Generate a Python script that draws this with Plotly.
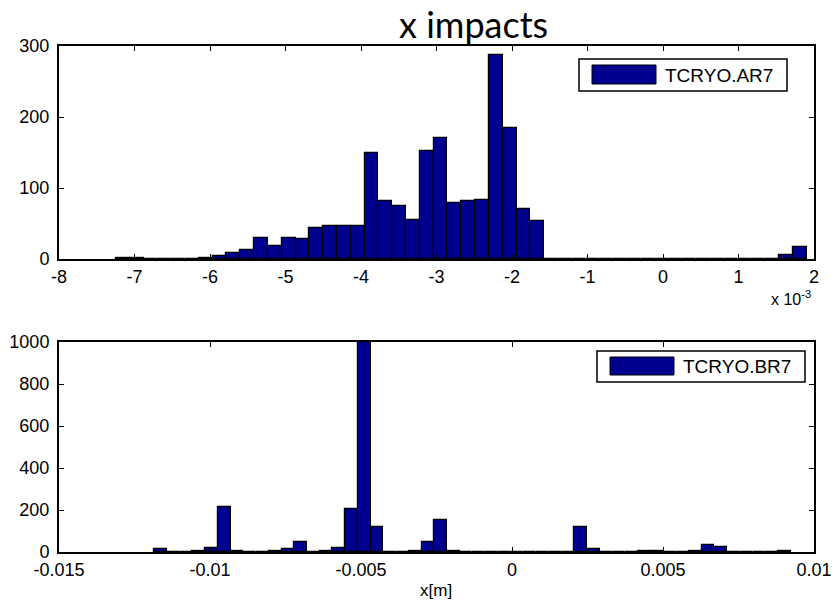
import numpy as np
import plotly.graph_objects as go

# Histogram of x impacts on TCRYO.AR7 (50 bins, x in units of 1e-3 m)
ar7_lo, ar7_hi = -7.246, 1.903
ar7_counts = [2, 1, 0, 0, 0, 0, 1, 4, 8, 13,
              30, 19, 30, 28, 43, 47, 47, 47, 149, 81,
              74, 55, 152, 171, 79, 81, 83, 288, 184, 70,
              53, 0, 0, 0, 0, 0, 0, 0, 0, 0,
              0, 0, 0, 0, 0, 0, 0, 0, 5, 17]

# Histogram of x impacts on TCRYO.BR7 (50 bins, x in m)
br7_lo, br7_hi = -0.011848, 0.009229
br7_counts = [12, 0, 0, 6, 19, 215, 6, 0, 0, 5,
              12, 46, 0, 5, 19, 204, 1000, 119, 0, 0,
              6, 46, 151, 5, 0, 0, 0, 0, 0, 0,
              0, 0, 0, 119, 12, 0, 0, 0, 3, 3,
              0, 0, 5, 32, 25, 0, 0, 0, 0, 5]

top_ticks = [-8, -7, -6, -5, -4, -3, -2, -1, 0, 1, 2]
top_yticks = [0, 100, 200, 300]
bot_ticks = [-0.015, -0.01, -0.005, 0, 0.005, 0.01]
bot_ticklabels = ["-0.015", "-0.01", "-0.005", "0", "0.005", "0.01"]
bot_yticks = [0, 200, 400, 600, 800, 1000]

BAR = "#00008F"
W, H = 835, 603


def hist_bars(lo, hi, counts, xaxis, yaxis):
    n = len(counts)
    edges = np.linspace(lo, hi, n + 1)
    centers = (edges[:-1] + edges[1:]) / 2
    width = (hi - lo) / n
    return go.Bar(x=centers, y=counts, width=width, xaxis=xaxis, yaxis=yaxis,
                  marker=dict(color=BAR, line=dict(color="black", width=1.2)),
                  showlegend=False, hoverinfo="x+y")


fig = go.Figure()
fig.add_trace(hist_bars(ar7_lo, ar7_hi, ar7_counts, "x", "y"))
fig.add_trace(hist_bars(br7_lo, br7_hi, br7_counts, "x2", "y2"))

px_x = lambda p: p / W
px_y = lambda p: 1 - p / H

tick_font = dict(family="Liberation Sans, Arial, sans-serif", size=18, color="black")
axis_common = dict(showline=True, linecolor="black", linewidth=2, mirror="ticks",
                   ticks="inside", ticklen=5, tickwidth=1, tickcolor="black",
                   showgrid=False, zeroline=False, tickfont=tick_font,
                   automargin=False)

fig.update_layout(
    width=W, height=H,
    margin=dict(l=0, r=0, t=0, b=0),
    paper_bgcolor="white", plot_bgcolor="white",
    bargap=0,
    xaxis=dict(domain=[px_x(59), px_x(814)], range=[-8, 2], anchor="y",
               tickvals=top_ticks, ticktext=[str(t) for t in top_ticks], **axis_common),
    yaxis=dict(domain=[px_y(259), px_y(46)], range=[0, 300], anchor="x",
               tickvals=top_yticks, ticklabelstandoff=4, **axis_common),
    xaxis2=dict(domain=[px_x(59), px_x(814)], range=[-0.015, 0.01], anchor="y2",
                tickvals=bot_ticks, ticktext=bot_ticklabels, **axis_common),
    yaxis2=dict(domain=[px_y(552), px_y(342)], range=[0, 1000], anchor="x2",
                tickvals=bot_yticks, ticklabelstandoff=4, **axis_common),
)

# Figure title
fig.add_annotation(text="x impacts", x=px_x(473), y=px_y(24), xref="paper", yref="paper",
                   showarrow=False, xanchor="center", yanchor="middle",
                   font=dict(family="Lato, Open Sans, sans-serif", size=36, color="black"))

# Exponent label for the upper axis
fig.add_annotation(text="x 10<sup>-3</sup>", x=px_x(813), y=px_y(298), xref="paper", yref="paper",
                   showarrow=False, xanchor="right", yanchor="middle",
                   font=dict(family="Liberation Sans, Arial, sans-serif", size=16, color="black"))

# Lower axis title
fig.add_annotation(text="x[m]", x=px_x(436), y=px_y(590), xref="paper", yref="paper",
                   showarrow=False, xanchor="center", yanchor="middle",
                   font=dict(family="Liberation Sans, Arial, sans-serif", size=17, color="black"))


# Boxed legends with a wide colour swatch
def legend_box(x0, y0, x1, y1, label):
    fig.add_shape(type="rect", xref="paper", yref="paper",
                  x0=px_x(x0), x1=px_x(x1), y0=px_y(y1), y1=px_y(y0),
                  line=dict(color="black", width=1.5), fillcolor="white")
    fig.add_shape(type="rect", xref="paper", yref="paper",
                  x0=px_x(x0 + 13), x1=px_x(x0 + 77), y0=px_y(y1 - 7), y1=px_y(y0 + 6),
                  line=dict(color="black", width=1), fillcolor=BAR)
    fig.add_annotation(text=label, x=px_x(x0 + 84), y=px_y((y0 + y1) / 2),
                       xref="paper", yref="paper", showarrow=False,
                       xanchor="left", yanchor="middle",
                       font=dict(family="Liberation Sans, Arial, sans-serif", size=19, color="black"))


legend_box(579, 59, 787, 91, "TCRYO.AR7")
legend_box(597, 351, 805, 382, "TCRYO.BR7")

fig.write_html("out.html")
